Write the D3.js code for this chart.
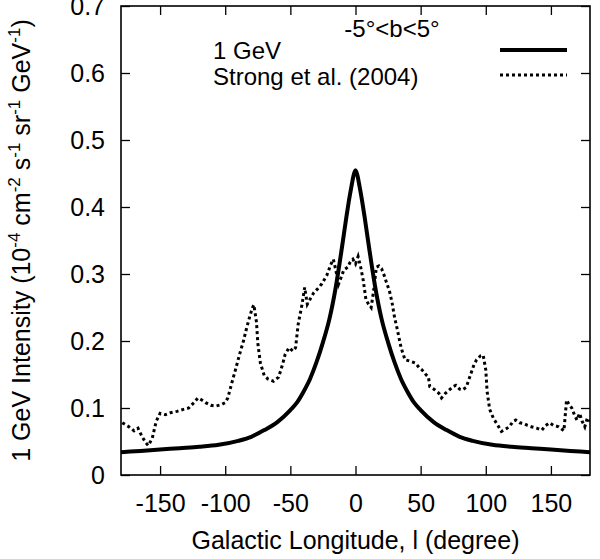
<!DOCTYPE html>
<html><head><meta charset="utf-8">
<script src="https://cdn.jsdelivr.net/npm/d3@7"></script>
<style>
body{margin:0;background:#fff}
svg{display:block}
text{font-family:"Liberation Sans",Arial,Helvetica,sans-serif;fill:#000}
</style>
</head><body>
<svg id="chart" width="600" height="559"></svg>
<script>
const xTicks = [-150, -100, -50, 0, 50, 100, 150];
const yTicks = [0, 0.1, 0.2, 0.3, 0.4, 0.5, 0.6, 0.7];

// Model curve: 1 GeV
const modelLon = [-180,-165,-150,-135,-120,-105,-90,-80,-70,-60,-50,-45,-40,-35,-30,-25,-20,-15,-10,-7,-5,-3,-1.5,0,
  1.5,3,5,7,10,15,20,25,30,35,40,45,50,60,70,80,90,105,120,135,150,165,180];
const modelI = [0.034,0.036,0.038,0.040,0.042,0.045,0.051,0.057,0.067,0.079,0.097,0.108,0.124,0.143,0.168,0.198,0.233,0.282,0.345,0.385,0.410,0.432,0.447,0.455,
  0.447,0.432,0.410,0.385,0.345,0.282,0.233,0.198,0.168,0.143,0.124,0.108,0.097,0.079,0.067,0.057,0.051,0.045,0.042,0.040,0.038,0.036,0.034];

// Strong et al. (2004)
const strongLon = [-179,-174,-170,-167,-164,-161,-159,-156,-153,-150,-146,-142,-137,-132,-128,-124,-121,-118,-115,-111,-107,-103,-100,-98,-95,-92,-89,-86,-84,-81,-79,-78,-76,-75,-73,-70,-67,-63,-59,-56,-54,-51,-48,-46,-44,-41,-39,-37,-35,-32,-29,-26,-22,-19,-17,-15,-13,-11,-9,-6,-4,-2,0,2,4,6,8,10,12,14,16,18,20,22,24,26,28,30,32,35,38,42,46,49,51,54,56,57,61,64,66,69,72,75,77,80,82,85,88,91,93,96,98,100,101,103,106,109,112,115,118,121,123,126,129,132,135,139,143,146,149,152,156,160,162,164,166,168,170,172,174,176,178,180];
const strongI = [0.078,0.072,0.066,0.070,0.058,0.048,0.044,0.055,0.080,0.092,0.090,0.093,0.095,0.098,0.100,0.108,0.115,0.112,0.108,0.104,0.103,0.105,0.108,0.115,0.137,0.158,0.180,0.200,0.216,0.238,0.250,0.254,0.228,0.197,0.167,0.148,0.143,0.140,0.146,0.165,0.180,0.190,0.185,0.190,0.225,0.255,0.280,0.255,0.262,0.272,0.278,0.285,0.298,0.314,0.322,0.305,0.285,0.295,0.306,0.310,0.318,0.322,0.315,0.326,0.310,0.290,0.262,0.255,0.250,0.276,0.310,0.312,0.308,0.298,0.286,0.275,0.258,0.235,0.218,0.190,0.172,0.170,0.167,0.160,0.157,0.150,0.146,0.132,0.127,0.122,0.115,0.122,0.127,0.132,0.134,0.128,0.127,0.131,0.148,0.165,0.172,0.178,0.179,0.157,0.125,0.098,0.084,0.075,0.065,0.068,0.072,0.080,0.082,0.078,0.077,0.074,0.072,0.070,0.067,0.074,0.078,0.074,0.072,0.066,0.112,0.105,0.100,0.090,0.082,0.092,0.080,0.072,0.085,0.080];

const W = 600, H = 559;
const m = {l: 121, r: 10, t: 6, b: 84};
const svg = d3.select("#chart");

const x = d3.scaleLinear().domain([-180, 180]).range([m.l, W - m.r]);
const y = d3.scaleLinear().domain([0, 0.7]).range([H - m.b, m.t]);

const tickLen = 9;
const fmtY = d => d === 0 ? "0" : d.toFixed(1);

// Axes
const gB = svg.append("g").attr("transform", `translate(0,${H - m.b})`)
  .call(d3.axisBottom(x).tickValues(xTicks).tickSize(-tickLen).tickPadding(19).tickFormat(d3.format("d")));
const gT = svg.append("g").attr("transform", `translate(0,${m.t})`)
  .call(d3.axisTop(x).tickValues(xTicks).tickSize(-tickLen).tickFormat(""));
const gL = svg.append("g").attr("transform", `translate(${m.l},0)`)
  .call(d3.axisLeft(y).tickValues(yTicks).tickSize(-tickLen).tickPadding(16).tickFormat(fmtY));
const gR = svg.append("g").attr("transform", `translate(${W - m.r},0)`)
  .call(d3.axisRight(y).tickValues(yTicks).tickSize(-tickLen).tickFormat(""));

[gB, gT, gL, gR].forEach(g => {
  g.select(".domain").remove();
  g.selectAll(".tick line").attr("stroke", "#000").attr("stroke-width", 1.3);
  g.selectAll(".tick text").attr("font-size", 25).attr("font-family", "Liberation Sans, Arial, sans-serif").attr("fill", "#000");
});
gB.selectAll(".tick text").text(d => d === 0 ? "0" : (d < 0 ? "-" + Math.abs(d) : String(d)));

// Frame
svg.append("rect")
  .attr("x", m.l).attr("y", m.t)
  .attr("width", W - m.r - m.l).attr("height", H - m.b - m.t)
  .attr("fill", "none").attr("stroke", "#000").attr("stroke-width", 1.6);

// Clip
svg.append("clipPath").attr("id", "clip").append("rect")
  .attr("x", m.l).attr("y", m.t).attr("width", W - m.r - m.l).attr("height", H - m.b - m.t);

const line = d3.line().x(d => x(d[0])).y(d => y(d[1]));

svg.append("path")
  .datum(strongLon.map((l, i) => [l, strongI[i]]))
  .attr("clip-path", "url(#clip)")
  .attr("d", line.curve(d3.curveLinear))
  .attr("fill", "none").attr("stroke", "#000")
  .attr("stroke-width", 3).attr("stroke-dasharray", "3,3");

svg.append("path")
  .datum(modelLon.map((l, i) => [l, modelI[i]]))
  .attr("clip-path", "url(#clip)")
  .attr("d", d3.line().x(d => x(d[0])).y(d => y(d[1])).curve(d3.curveMonotoneX))
  .attr("fill", "none").attr("stroke", "#000")
  .attr("stroke-width", 4).attr("stroke-linejoin", "round");

// Legend
const leg = svg.append("g");
leg.append("text").attr("x", 392).attr("y", 37).attr("text-anchor", "middle")
  .attr("font-size", 24).text("-5°<b<5°");
leg.append("text").attr("x", 213).attr("y", 59).attr("font-size", 24).text("1 GeV");
leg.append("text").attr("x", 213).attr("y", 85).attr("font-size", 24).text("Strong et al. (2004)");
leg.append("line").attr("x1", 500).attr("x2", 567).attr("y1", 50).attr("y2", 50)
  .attr("stroke", "#000").attr("stroke-width", 4);
leg.append("line").attr("x1", 500).attr("x2", 567).attr("y1", 75).attr("y2", 75)
  .attr("stroke", "#000").attr("stroke-width", 3).attr("stroke-dasharray", "3,3");

// Axis titles
svg.append("text").attr("x", (m.l + W - m.r) / 2).attr("y", 549)
  .attr("text-anchor", "middle").attr("font-size", 25)
  .text("Galactic Longitude, l (degree)");

const yt = svg.append("text")
  .attr("transform", `translate(30,${(m.t + H - m.b) / 2}) rotate(-90)`)
  .attr("text-anchor", "middle").attr("font-size", 25);
const parts = [["1 GeV Intensity (10", false], ["-4", true], [" cm", false], ["-2", true],
  [" s", false], ["-1", true], [" sr", false], ["-1", true], [" GeV", false], ["-1", true], [")", false]];
let prevSup = false;
parts.forEach(([t, sup]) => {
  const ts = yt.append("tspan").text(t);
  if (sup) { ts.attr("font-size", 17).attr("dy", -10); }
  else if (prevSup) { ts.attr("dy", 10); }
  prevSup = sup;
});
</script>
</body></html>
